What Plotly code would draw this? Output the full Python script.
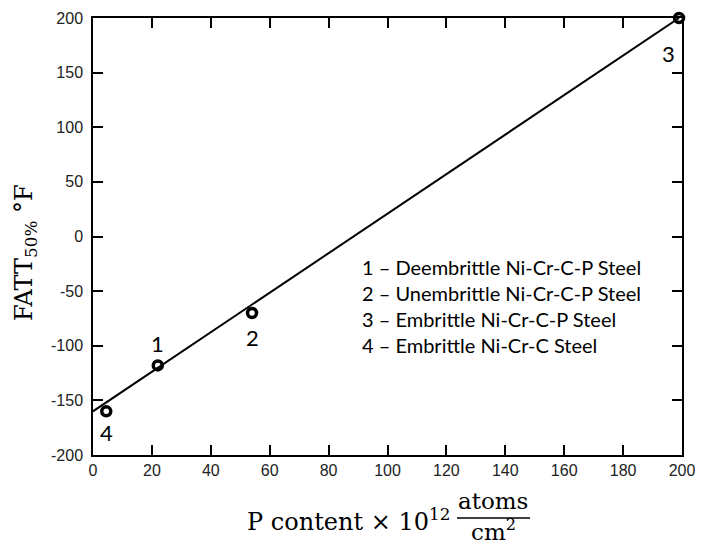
import plotly.graph_objects as go

# Data
point_x = [22, 54, 199, 4.5]
point_y = [-118, -70, 200, -160]
point_labels = ["1", "2", "3", "4"]
line_x = [0, 199]
line_y = [-160, 200]
legend_lines = [
    "1 – Deembrittle Ni-Cr-C-P Steel",
    "2 – Unembrittle Ni-Cr-C-P Steel",
    "3 – Embrittle Ni-Cr-C-P Steel",
    "4 – Embrittle Ni-Cr-C Steel",
]
x_ticks = list(range(0, 201, 20))
y_ticks = list(range(-200, 201, 50))
x_ticktext = [str(v) for v in x_ticks]
y_ticktext = [str(v) for v in y_ticks]  # plain hyphen-minus

# plot area in page pixels: x 93..682, y 18..455 (page has 8px body margin)
X0, X1 = 93, 682
PW, PH = X1 - X0, 437


def px(xp):
    return (xp - X0) / PW


def py(yp):
    return (455 - yp) / PH


fig = go.Figure()
fig.add_trace(go.Scatter(x=line_x, y=line_y, mode="lines",
                         line=dict(color="black", width=2), showlegend=False, hoverinfo="skip"))
fig.add_trace(go.Scatter(x=point_x, y=point_y, mode="markers",
                         marker=dict(symbol="circle-open", size=9, color="black",
                                     line=dict(width=3.5, color="black")),
                         showlegend=False, cliponaxis=False))

label_shift = {"1": (0, 22), "2": (0, -25), "3": (-11, -35), "4": (0, -21)}
for x, y, t in zip(point_x, point_y, point_labels):
    dx, dy = label_shift[t]
    fig.add_annotation(x=x, y=y, text=t, showarrow=False, xshift=dx, yshift=dy,
                       font=dict(family="Lato", size=22, color="black"))

for i, t in enumerate(legend_lines):
    fig.add_annotation(xref="paper", yref="paper", x=px(360), y=py(267 + 26 * i),
                       xanchor="left", yanchor="middle", text=t, showarrow=False,
                       font=dict(family="Lato", size=20, color="black"))

# Y title
fig.add_annotation(xref="paper", yref="paper", x=px(26), y=py(253),
                   text="FATT<sub>50%</sub> °F", textangle=-90, showarrow=False,
                   xanchor="center", yanchor="middle",
                   font=dict(family="DejaVu Serif", size=24, color="black"))

# X title with fraction
fig.add_annotation(xref="paper", yref="paper", x=px(452), y=py(520),
                   xanchor="right", yanchor="middle", text="P content × 10<sup>12</sup>",
                   showarrow=False, font=dict(family="DejaVu Serif", size=24, color="black"))
fig.add_annotation(xref="paper", yref="paper", x=px(493), y=py(501),
                   xanchor="center", yanchor="middle", text="atoms",
                   showarrow=False, font=dict(family="DejaVu Serif", size=23, color="black"))
fig.add_annotation(xref="paper", yref="paper", x=px(493), y=py(530),
                   xanchor="center", yanchor="middle", text="cm<sup>2</sup>",
                   showarrow=False, font=dict(family="DejaVu Serif", size=23, color="black"))
fig.add_shape(type="line", xref="paper", yref="paper",
              x0=px(457), x1=px(530), y0=py(518), y1=py(518),
              line=dict(color="black", width=1.5))

axis_common = dict(showline=True, linecolor="black", linewidth=1.5, mirror="ticks",
                   ticks="inside", ticklen=10, tickwidth=1.5, tickcolor="black",
                   showgrid=False, zeroline=False, automargin=False,
                   ticklabeloverflow="allow",
                   tickfont=dict(family="Liberation Sans", size=16, color="#222"))
fig.update_xaxes(range=[0, 200], tickvals=x_ticks, ticktext=x_ticktext, **axis_common)
fig.update_yaxes(range=[-200, 200], tickvals=y_ticks, ticktext=y_ticktext,
                 ticklabelstandoff=5, **axis_common)

fig.update_layout(width=687, height=537, plot_bgcolor="white", paper_bgcolor="white",
                  margin=dict(l=X0 - 8, r=8 + 687 - X1, t=10, b=90, autoexpand=False),
                  showlegend=False)

fig.write_html("out.html")
